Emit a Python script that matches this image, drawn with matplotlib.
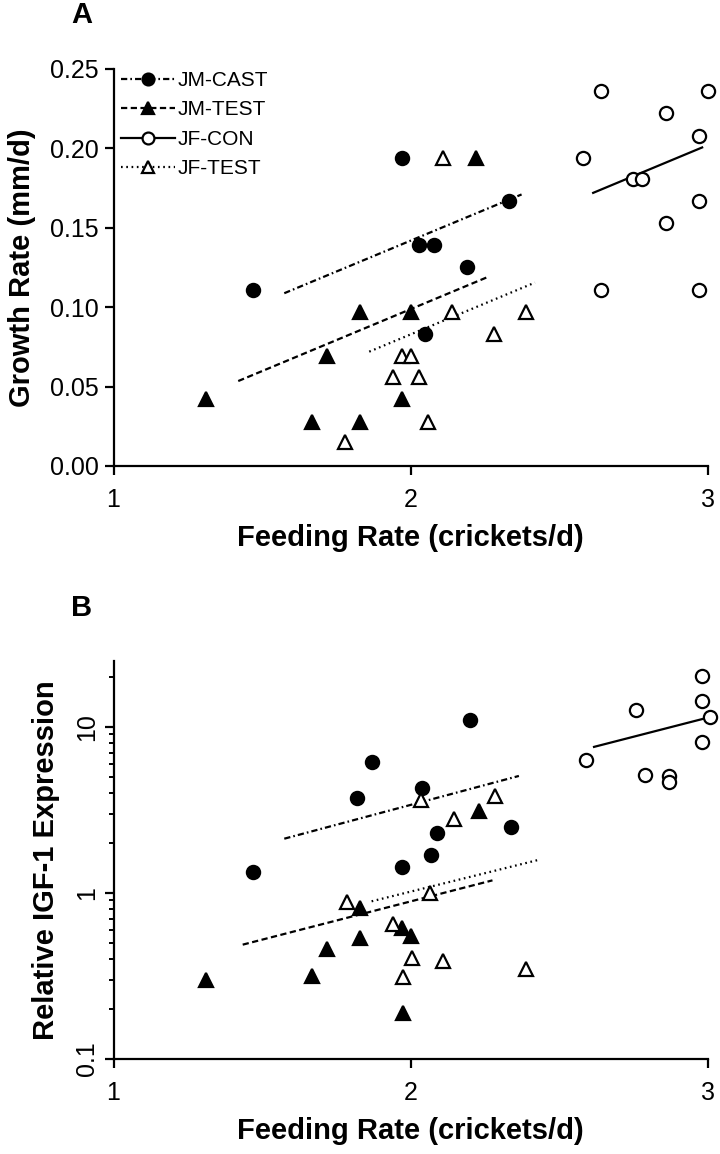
import matplotlib
matplotlib.use('Agg')
import matplotlib.pyplot as plt
from matplotlib.lines import Line2D
from matplotlib.ticker import LogLocator, NullFormatter, FixedLocator
import numpy as np

plt.rcParams['font.family'] = ['Liberation Sans', 'DejaVu Sans']
plt.rcParams['lines.scale_dashes'] = False

groups = ['JM-CAST', 'JM-TEST', 'JF-CON', 'JF-TEST']

# ---------------- Panel A data: growth rate ----------------
a_jm_cast_x = [1.47, 1.97, 2.03, 2.05, 2.08, 2.19, 2.33]
a_jm_cast_y = [0.111, 0.194, 0.139, 0.083, 0.139, 0.125, 0.167]
a_jm_test_x = [1.31, 1.67, 1.72, 1.83, 1.83, 1.97, 2.00, 2.22]
a_jm_test_y = [0.042, 0.028, 0.069, 0.028, 0.097, 0.042, 0.097, 0.194]
a_jf_con_x = [2.58, 2.64, 2.64, 2.75, 2.78, 2.86, 2.86, 2.97, 2.97, 2.97, 3.00]
a_jf_con_y = [0.194, 0.236, 0.111, 0.181, 0.181, 0.222, 0.153, 0.208, 0.167, 0.111, 0.236]
a_jf_test_x = [1.78, 1.94, 1.97, 2.00, 2.03, 2.06, 2.11, 2.14, 2.28, 2.39]
a_jf_test_y = [0.015, 0.056, 0.069, 0.069, 0.056, 0.028, 0.194, 0.097, 0.083, 0.097]

# fitted lines (JM-CAST, JM-TEST, JF-CON, JF-TEST)
a_fit_x0 = [1.575, 1.42, 2.615, 1.861]
a_fit_x1 = [2.374, 2.265, 2.982, 2.419]
a_fit_y0 = [0.1088, 0.0535, 0.172, 0.072]
a_fit_y1 = [0.171, 0.1194, 0.2006, 0.1155]

# ---------------- Panel B data: IGF-1 expression ----------------
b_jm_cast_x = [1.47, 1.82, 1.87, 1.97, 2.04, 2.07, 2.09, 2.20, 2.34]
b_jm_cast_y = [1.34, 3.74, 6.18, 1.43, 4.28, 1.70, 2.30, 11.0, 2.50]
b_jm_test_x = [1.31, 1.67, 1.72, 1.83, 1.83, 1.97, 1.975, 2.00, 2.23]
b_jm_test_y = [0.30, 0.317, 0.459, 0.535, 0.812, 0.615, 0.189, 0.552, 3.11]
b_jf_con_x = [2.59, 2.76, 2.79, 2.87, 2.87, 2.98, 2.98, 2.98, 3.01]
b_jf_con_y = [6.31, 12.6, 5.10, 5.06, 4.68, 20.3, 14.3, 8.10, 11.5]
b_jf_test_x = [1.785, 1.942, 1.975, 2.005, 2.034, 2.065, 2.11, 2.147, 2.286, 2.39]
b_jf_test_y = [0.877, 0.65, 0.31, 0.408, 3.62, 1.0, 0.39, 2.80, 3.83, 0.35]

b_fit_x0 = [1.575, 1.435, 2.618, 1.869]
b_fit_x1 = [2.365, 2.276, 2.988, 2.437]
b_fit_y0 = [2.12, 0.488, 7.57, 0.89]
b_fit_y1 = [5.06, 1.19, 11.2, 1.59]

# ---------------- styles ----------------
styles = {
    'JM-CAST': dict(marker='o', ms=9.5, mfc='black', dashes=(4.5, 2.2, 1.2, 2.2)),
    'JM-TEST': dict(marker='^', ms=10, mfc='black', dashes=(4.5, 2.5)),
    'JF-CON': dict(marker='o', ms=9.5, mfc='white', dashes=None),
    'JF-TEST': dict(marker='^', ms=10, mfc='white', dashes=(1.2, 2.6)),
}

fig = plt.figure(figsize=(7.2, 11.54), dpi=100)
W, H = 720.0, 1154.0
axA = fig.add_axes([113.5 / W, 1 - 466 / H, 594 / W, 397 / H])
axB = fig.add_axes([113.5 / W, 1 - 1059 / H, 594 / W, 398.3 / H])


def draw(ax, data, fx0, fx1, fy0, fy1):
    for i, g in enumerate(groups):
        st = styles[g]
        x, y = data[g]
        ax.plot(x, y, ls='none', marker=st['marker'], ms=st['ms'],
                mfc=st['mfc'], mec='black', mew=1.6, clip_on=False, zorder=3)
        kw = dict(color='black', lw=1.6, zorder=2)
        if st['dashes'] is not None:
            kw['dashes'] = st['dashes']
        ax.plot([fx0[i], fx1[i]], [fy0[i], fy1[i]], **kw)


def style_axes(ax):
    for s in ['top', 'right']:
        ax.spines[s].set_visible(False)
    for s in ['left', 'bottom']:
        ax.spines[s].set_linewidth(1.6)
    ax.tick_params(which='major', direction='out', length=6.5, width=1.6,
                   labelsize=18, color='black')
    ax.tick_params(axis='x', pad=9)
    ax.tick_params(axis='y', pad=4)
    ax.set_xlim(1, 3)
    ax.set_xticks([1, 2, 3])
    ax.set_xticklabels(['1', '2', '3'])
    ax.set_xlabel('Feeding Rate (crickets/d)', fontsize=21, fontweight='bold')


dataA = {'JM-CAST': (a_jm_cast_x, a_jm_cast_y), 'JM-TEST': (a_jm_test_x, a_jm_test_y),
         'JF-CON': (a_jf_con_x, a_jf_con_y), 'JF-TEST': (a_jf_test_x, a_jf_test_y)}
dataB = {'JM-CAST': (b_jm_cast_x, b_jm_cast_y), 'JM-TEST': (b_jm_test_x, b_jm_test_y),
         'JF-CON': (b_jf_con_x, b_jf_con_y), 'JF-TEST': (b_jf_test_x, b_jf_test_y)}

draw(axA, dataA, a_fit_x0, a_fit_x1, a_fit_y0, a_fit_y1)
style_axes(axA)
axA.set_ylim(0, 0.25)
axA.set_yticks([0.0, 0.05, 0.10, 0.15, 0.20, 0.25])
axA.set_yticklabels(['0.00', '0.05', '0.10', '0.15', '0.20', '0.25'])
axA.set_ylabel('Growth Rate (mm/d)', fontsize=21, fontweight='bold')
axA.yaxis.set_label_coords(-0.130, 0.5)
axA.xaxis.set_label_coords(0.5, -0.145)

handles = []
for g in groups:
    st = styles[g]
    kw = dict(color='black', lw=1.6, marker=st['marker'], ms=st['ms'] * 0.9,
              mfc=st['mfc'], mec='black', mew=1.6)
    if st['dashes'] is not None:
        kw['dashes'] = st['dashes']
    handles.append(Line2D([], [], **kw))
axA.legend(handles, groups, loc='upper left', bbox_to_anchor=(0.0126, 0.995),
           frameon=False, fontsize=15, handlelength=2.6, handletextpad=0.1,
           labelspacing=0.5, borderpad=0, borderaxespad=0)

draw(axB, dataB, b_fit_x0, b_fit_x1, b_fit_y0, b_fit_y1)
style_axes(axB)
axB.set_yscale('log')
axB.set_ylim(0.1, 25)
axB.yaxis.set_major_locator(FixedLocator([0.1, 1, 10]))
axB.set_yticklabels(['0.1', '1', '10'], rotation=90, va='center')
axB.yaxis.set_minor_locator(LogLocator(base=10, subs=np.arange(2, 10)))
axB.yaxis.set_minor_formatter(NullFormatter())
axB.tick_params(which='minor', direction='out', length=3.5, width=1.4)
axB.set_ylabel('Relative IGF-1 Expression', fontsize=21, fontweight='bold')
axB.yaxis.set_label_coords(-0.090, 0.5)
axB.xaxis.set_label_coords(0.5, -0.145)

fig.text(82 / W, 1 - 15 / H, 'A', ha='center', va='center', fontsize=21, fontweight='bold')
fig.text(82 / W, 1 - 608 / H, 'B', ha='center', va='center', fontsize=21, fontweight='bold')

fig.savefig('out.png', dpi=100)
